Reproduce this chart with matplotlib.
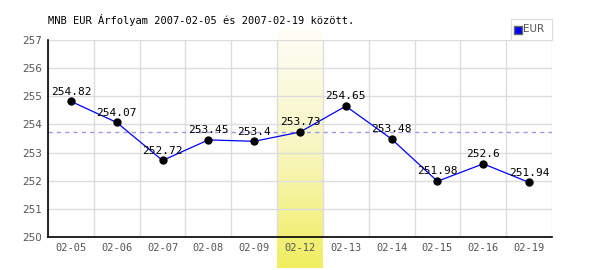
import numpy as np
import matplotlib
matplotlib.use("Agg")
import matplotlib.pyplot as plt
from matplotlib.colors import LinearSegmentedColormap

categories = ["02-05", "02-06", "02-07", "02-08", "02-09", "02-12",
              "02-13", "02-14", "02-15", "02-16", "02-19"]
values = [254.82, 254.07, 252.72, 253.45, 253.4, 253.73,
          254.65, 253.48, 251.98, 252.6, 251.94]
yticks = [250, 251, 252, 253, 254, 255, 256, 257]
highlight_idx = 5
ref_value = 253.73
title = "MNB EUR Árfolyam 2007-02-05 és 2007-02-19 között."
series_name = "EUR"

font = "DejaVu Sans Mono"
fig = plt.figure(figsize=(6, 2.7), dpi=100)
ax = fig.add_axes([48/600, 33/270, 504/600, 197/270])

x = np.arange(len(categories))
ax.set_xlim(-0.5, len(categories) - 0.5)
ax.set_ylim(250, 257)

# highlight gradient band
cmap = LinearSegmentedColormap.from_list("hl", ["#fefef8", "#f8f6c0", "#f0ee60"])
grad = np.linspace(0, 1, 256).reshape(-1, 1)
im = ax.imshow(grad, cmap=cmap, aspect="auto", origin="upper",
               extent=[highlight_idx - 0.5, highlight_idx + 0.5, 248.9, 257.35],
               zorder=0, clip_on=False, interpolation="bilinear")

for yv in yticks:
    ax.axhline(yv, color="#dddddd", lw=1, zorder=1)
for xv in np.arange(-0.5, len(categories), 1.0):
    ax.axvline(xv, color="#dddddd", lw=1, zorder=1)

ax.axhline(ref_value, color="#9999ee", lw=1, ls=(0, (3, 3)), zorder=2)

ax.plot(x, values, color="#0000ff", lw=0.9, zorder=3)
ax.plot(x, values, "o", color="black", ms=5, zorder=4)
for xi, v in zip(x, values):
    ax.text(xi, v + 0.17, f"{v:g}", ha="center", va="bottom",
            fontsize=8, family=font, color="black", zorder=5)

ax.set_xticks(x)
ax.set_xticklabels(categories, fontsize=7.5, family=font, color="#555555")
ax.set_yticks(yticks)
ax.set_yticklabels([str(t) for t in yticks], fontsize=7.5, family="DejaVu Sans", color="#555555")
ax.tick_params(length=0, pad=4)

for s in ["top", "right"]:
    ax.spines[s].set_visible(False)
ax.spines["left"].set_color("black")
ax.spines["bottom"].set_color("black")
ax.spines["left"].set_linewidth(1.2)
ax.spines["bottom"].set_linewidth(1.2)
ax.set_facecolor("none")

fig.text(48/600, 1 - 20/270, title, fontsize=7.5, family=font, va="center", ha="left")

# legend box
lax = fig.add_axes([511/600, 1 - 40/270, 41/600, 21/270])
lax.set_xticks([]); lax.set_yticks([])
for s in lax.spines.values():
    s.set_color("#dddddd")
lax.set_xlim(0, 41); lax.set_ylim(0, 21)
lax.plot([7], [10.5], "s", color="#0000ff", mec="#666666", ms=5.5, mew=1)
lax.text(12, 10.5, series_name, fontsize=7.5, family="DejaVu Sans", color="#555555", va="center")

fig.savefig("out.png", dpi=100)
